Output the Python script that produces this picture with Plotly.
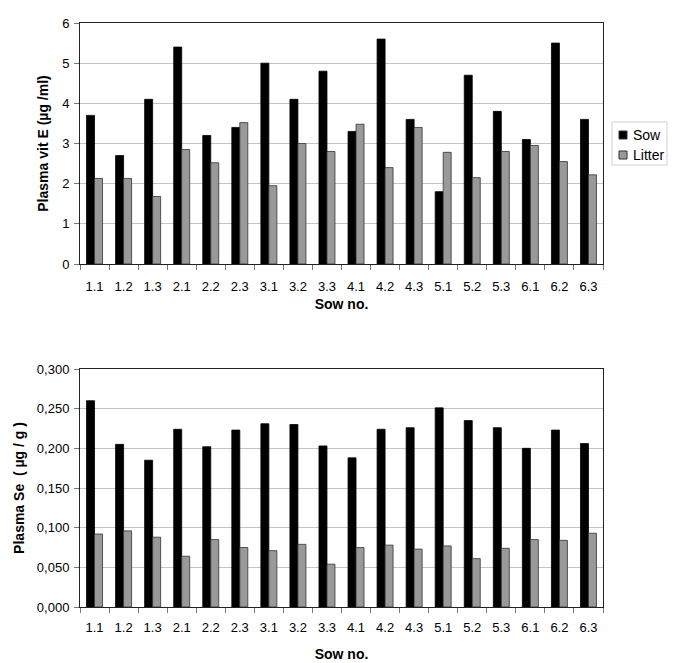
import plotly.graph_objects as go

sows = ["1.1","1.2","1.3","2.1","2.2","2.3","3.1","3.2","3.3","4.1","4.2","4.3","5.1","5.2","5.3","6.1","6.2","6.3"]
vitE_sow = [3.7, 2.7, 4.1, 5.4, 3.2, 3.4, 5.0, 4.1, 4.8, 3.3, 5.6, 3.6, 1.8, 4.7, 3.8, 3.1, 5.5, 3.6]
vitE_litter = [2.13, 2.13, 1.68, 2.85, 2.52, 3.52, 1.95, 3.0, 2.8, 3.48, 2.4, 3.4, 2.78, 2.15, 2.8, 2.95, 2.55, 2.22]
se_sow = [0.260, 0.205, 0.185, 0.224, 0.202, 0.223, 0.231, 0.230, 0.203, 0.188, 0.224, 0.226, 0.251, 0.235, 0.226, 0.200, 0.223, 0.206]
se_litter = [0.092, 0.096, 0.088, 0.064, 0.085, 0.075, 0.071, 0.079, 0.054, 0.075, 0.078, 0.073, 0.077, 0.061, 0.074, 0.085, 0.084, 0.093]
series_names = ["Sow", "Litter"]
series_colors = ["black", "#999999"]

W, H = 685, 663
FONT = "Liberation Sans, Arial, sans-serif"
TITLEFONT = dict(family=FONT, size=14, color="black")

fig = go.Figure()
for i, (vals_top, vals_bot) in enumerate([(vitE_sow, se_sow), (vitE_litter, se_litter)]):
    mk = dict(color=series_colors[i], line=dict(color="black" if i == 0 else "#333333", width=0.8))
    fig.add_trace(go.Bar(x=sows, y=vals_top, name=series_names[i], xaxis="x", yaxis="y",
                         marker=mk, showlegend=False))
    fig.add_trace(go.Bar(x=sows, y=vals_bot, name=series_names[i], xaxis="x2", yaxis="y2",
                         marker=mk, showlegend=False))

xd = [80 / W, 603 / W]
top = [(H - 264) / H, (H - 23) / H]
bot = [(H - 607) / H, (H - 369) / H]

xcommon = dict(type="category", tickson="boundaries", ticks="outside", ticklen=5,
               tickcolor="#777777", showline=True, linecolor="#222222", mirror=True,
               showgrid=False, tickfont=dict(family=FONT, size=13, color="black"),
               domain=xd, automargin=False, tickangle=0)
ycommon = dict(showline=True, linecolor="#222222", mirror=True, ticks="outside", ticklen=5,
               tickcolor="#777777", showgrid=True, gridcolor="#c4c4c4", gridwidth=1,
               zeroline=False, tickfont=dict(family=FONT, size=13, color="black"),
               automargin=False, ticklabelstandoff=2)

fig.update_layout(
    width=W, height=H, margin=dict(l=0, r=0, t=0, b=0),
    paper_bgcolor="white", plot_bgcolor="white",
    barmode="group", bargap=0.45, bargroupgap=0.0,
    separators=",.",
    showlegend=False,
    xaxis=dict(**xcommon, anchor="y", ticklabelstandoff=10,
               title=dict(text="<b>Sow no.</b>", font=TITLEFONT, standoff=6)),
    yaxis=dict(**ycommon, domain=top, anchor="x", range=[0, 6], dtick=1,
               title=dict(text="<b>Plasma vit E (µg /ml)</b>", font=TITLEFONT, standoff=10)),
    xaxis2=dict(**xcommon, anchor="y2", ticklabelstandoff=8,
                title=dict(text="<b>Sow no.</b>", font=TITLEFONT, standoff=15)),
    yaxis2=dict(**ycommon, domain=bot, anchor="x2", range=[0, 0.3], dtick=0.05, tickformat=".3f",
                title=dict(text="<b>Plasma Se  ( µg / g )</b>", font=TITLEFONT, standoff=8)),
)

# legend box (top chart only)
lx0, lx1, ly0, ly1 = 612, 667, 122, 165
fig.add_shape(type="rect", xref="paper", yref="paper",
              x0=lx0 / W, x1=lx1 / W, y0=1 - ly1 / H, y1=1 - ly0 / H,
              line=dict(color="#d0d0d0", width=1), fillcolor="white")
for i, name in enumerate(series_names):
    cy = 135 + i * 20
    fig.add_shape(type="rect", xref="paper", yref="paper",
                  x0=619 / W, x1=627 / W, y0=1 - (cy + 4) / H, y1=1 - (cy - 4) / H,
                  line=dict(color="#333333", width=1), fillcolor=series_colors[i])
    fig.add_annotation(x=631 / W, y=1 - cy / H, xref="paper", yref="paper",
                       text=name, showarrow=False, xanchor="left", yanchor="middle",
                       font=dict(family=FONT, size=14, color="black"))

fig.write_html("out.html", config={"displayModeBar": False},
               post_script="document.body.style.margin='0px';")
